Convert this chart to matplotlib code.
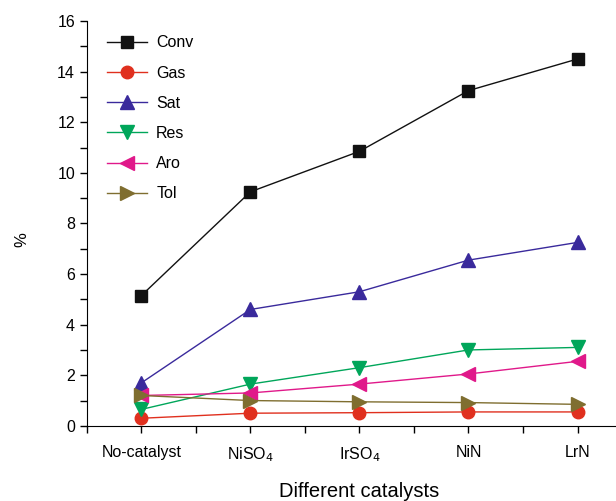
import numpy as np
import matplotlib
matplotlib.use("Agg")
from matplotlib import pyplot as plt
from matplotlib.ticker import MultipleLocator

plt.rcParams['font.family'] = ['Liberation Sans', 'DejaVu Sans']

catalysts = ["No-catalyst", "NiSO$_4$", "IrSO$_4$", "NiN", "LrN"]
conv = [5.15, 9.25, 10.85, 13.25, 14.5]
gas = [0.3, 0.5, 0.52, 0.55, 0.55]
sat = [1.7, 4.6, 5.3, 6.55, 7.25]
res = [0.65, 1.65, 2.3, 3.0, 3.1]
aro = [1.2, 1.3, 1.65, 2.05, 2.55]
tol = [1.2, 1.0, 0.95, 0.92, 0.85]

fig = plt.figure(figsize=(6.16, 5.01), dpi=100)
ax = fig.add_axes([0.141, 0.150, 0.885, 0.808])

x = np.arange(len(catalysts))
ax.plot(x, conv, color="#111111", marker="s", ms=8, lw=1, label="Conv")
ax.plot(x, gas, color="#e0301e", marker="o", ms=9, lw=1, label="Gas")
ax.plot(x, sat, color="#3a2a9c", marker="^", ms=10, lw=1, label="Sat")
ax.plot(x, res, color="#00a65a", marker="v", ms=10, lw=1, label="Res")
ax.plot(x, aro, color="#e0198a", marker="<", ms=10, lw=1, label="Aro")
ax.plot(x, tol, color="#7f6e30", marker=">", ms=10, lw=1, label="Tol")

ax.set_xlim(-0.5, 4.5)
ax.set_ylim(0, 16)
ax.set_xticks(x)
ax.set_xticklabels(catalysts)
ax.xaxis.set_minor_locator(MultipleLocator(0.5))
ax.yaxis.set_major_locator(MultipleLocator(2))
ax.yaxis.set_minor_locator(MultipleLocator(1))
ax.tick_params(axis="both", which="both", direction="out", length=5, width=1, labelsize=11.5)
ax.tick_params(axis="x", pad=9)
for s in ["top", "right"]:
    ax.spines[s].set_visible(False)

ax.set_ylabel("%", fontsize=12)
ax.yaxis.set_label_coords(-0.105, 0.46)
ax.set_xlabel("Different catalysts", fontsize=14.5, labelpad=13)

ax.legend(loc="upper left", bbox_to_anchor=(0.01, 1.0), frameon=False,
          fontsize=11.5, handlelength=2.5, labelspacing=0.95, handletextpad=0.6)

plt.savefig("out.png", dpi=100)
